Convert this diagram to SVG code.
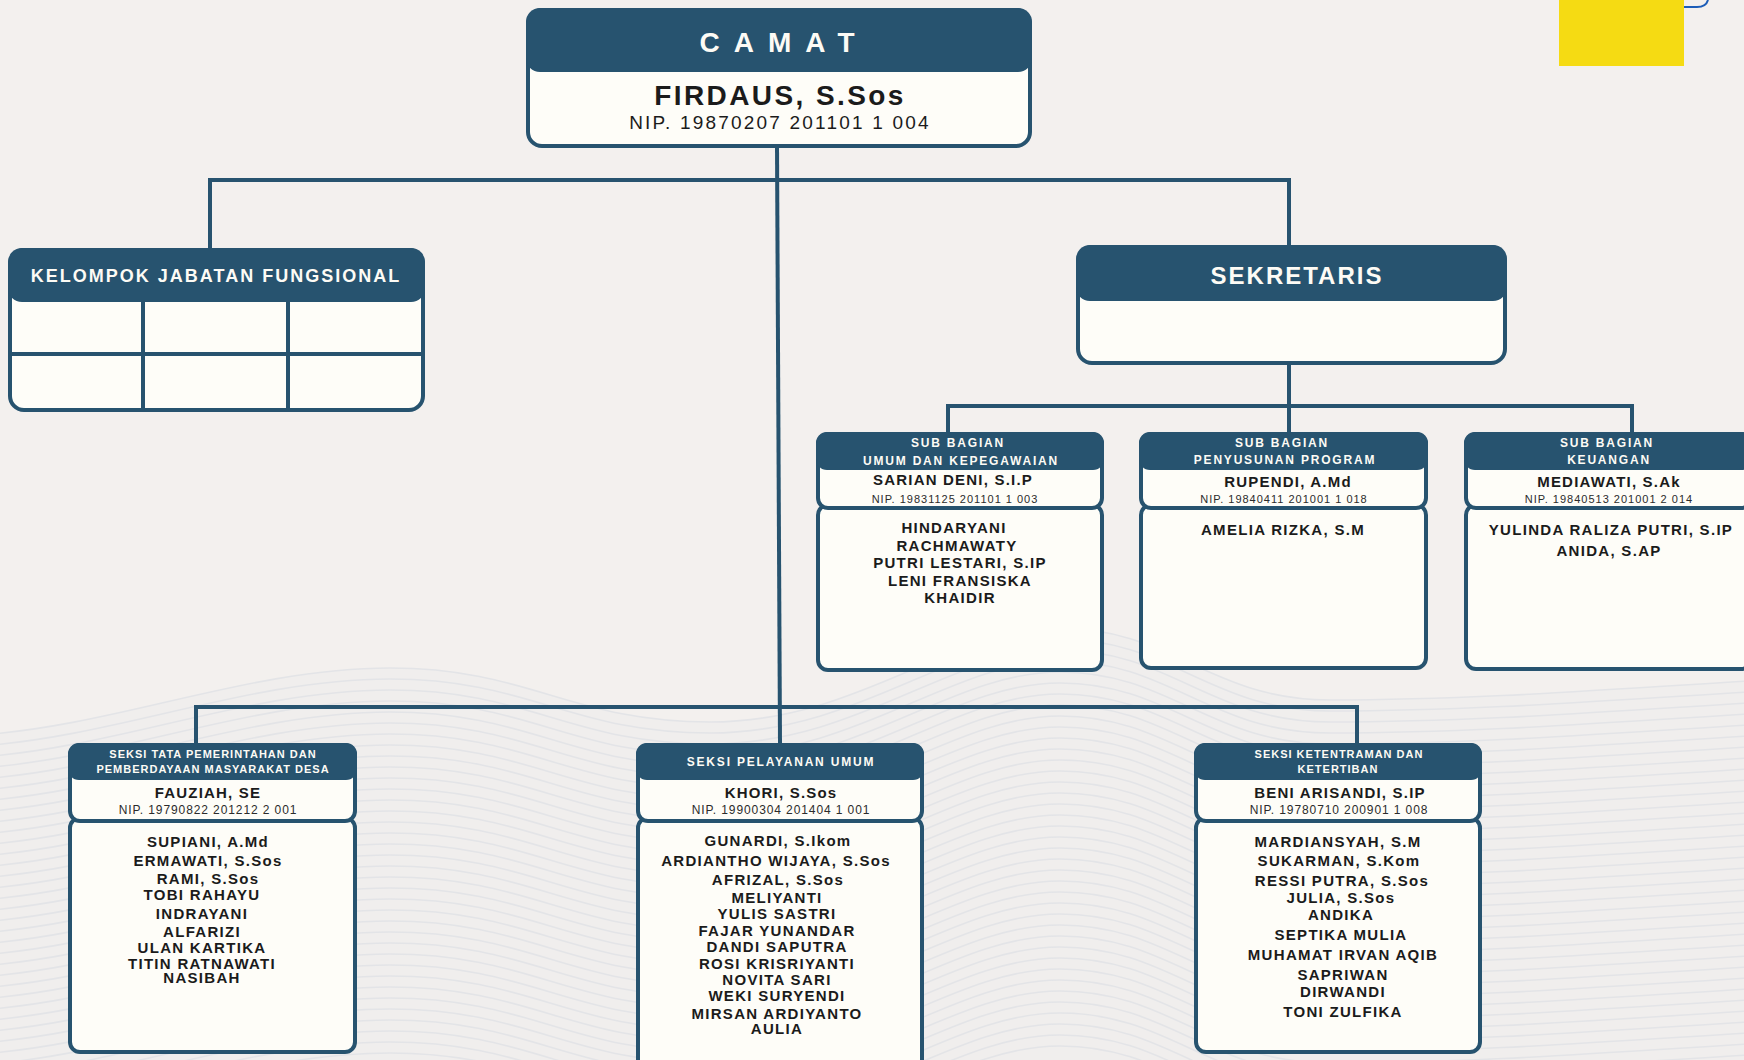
<svg xmlns="http://www.w3.org/2000/svg" xmlns:xlink="http://www.w3.org/1999/xlink" width="1744" height="1060" viewBox="0 0 1744 1060">
<style>
.bg{fill:#F3F0EE}
.hdr{fill:#27536F}
.card{fill:#FEFDF8;stroke:#27536F;stroke-width:4}
.conn{stroke:#27536F;stroke-width:4;fill:none}
.grid{stroke:#27536F;stroke-width:4}
.wave{fill:none;stroke:#E3E4E7;stroke-width:1.6}
text{font-family:"Liberation Sans",Arial,sans-serif;text-anchor:middle}
.t-camat{font-size:28px;font-weight:700;fill:#FDFBF5;letter-spacing:14px}
.t-chief{font-size:28px;font-weight:700;fill:#1b1b1b;letter-spacing:2.4px}
.t-nipbig{font-size:19px;fill:#1b1b1b;letter-spacing:2.2px}
.t-title{font-size:18px;font-weight:700;fill:#FDFBF5;letter-spacing:2px}
.t-sek{font-size:24px;font-weight:700;fill:#FDFBF5;letter-spacing:2px}
.t-h{font-size:12px;font-weight:700;fill:#FDFBF5;letter-spacing:1.8px}
.t-h2{font-size:11px;font-weight:700;fill:#FDFBF5;letter-spacing:1px}
.t-name{font-size:15px;font-weight:700;fill:#1b1b1b;letter-spacing:1.2px}
.t-nip{font-size:11px;fill:#2b2b2b;letter-spacing:1px}
.t-nip2{font-size:12px;fill:#2b2b2b;letter-spacing:0.9px}
.t-body{font-size:15px;font-weight:700;fill:#1b1b1b;letter-spacing:1.3px}
</style>
<defs>
<path id="wv" d="M-20,735 C120,725 250,668 390,668 C530,668 570,722 710,722 C860,722 950,628 1060,628 C1170,628 1210,700 1330,700 C1470,700 1600,690 1764,680"/>
</defs>
<rect class="bg" x="0" y="0" width="1744" height="1060"/>
<g id="background-waves">
<path d="M-20,735 C120,725 250,668 390,668 C530,668 570,722 710,722 C860,722 950,628 1060,628 C1170,628 1210,700 1330,700 C1470,700 1600,690 1764,680 V1060 H-20 Z" fill="#EEEDED" opacity="0.6"/>
<use href="#wv" class="wave" y="0"/>
<use href="#wv" class="wave" y="11"/>
<use href="#wv" class="wave" y="22"/>
<use href="#wv" class="wave" y="33"/>
<use href="#wv" class="wave" y="44"/>
<use href="#wv" class="wave" y="55"/>
<use href="#wv" class="wave" y="66"/>
<use href="#wv" class="wave" y="77"/>
<use href="#wv" class="wave" y="88"/>
<use href="#wv" class="wave" y="99"/>
<use href="#wv" class="wave" y="110"/>
<use href="#wv" class="wave" y="121"/>
<use href="#wv" class="wave" y="132"/>
<use href="#wv" class="wave" y="143"/>
<use href="#wv" class="wave" y="154"/>
<use href="#wv" class="wave" y="165"/>
<use href="#wv" class="wave" y="176"/>
<use href="#wv" class="wave" y="187"/>
<use href="#wv" class="wave" y="198"/>
<use href="#wv" class="wave" y="209"/>
<use href="#wv" class="wave" y="220"/>
<use href="#wv" class="wave" y="231"/>
<use href="#wv" class="wave" y="242"/>
<use href="#wv" class="wave" y="253"/>
<use href="#wv" class="wave" y="264"/>
<use href="#wv" class="wave" y="275"/>
<use href="#wv" class="wave" y="286"/>
<use href="#wv" class="wave" y="297"/>
<use href="#wv" class="wave" y="308"/>
<use href="#wv" class="wave" y="319"/>
<use href="#wv" class="wave" y="330"/>
<use href="#wv" class="wave" y="341"/>
<use href="#wv" class="wave" y="352"/>
<use href="#wv" class="wave" y="363"/>
<use href="#wv" class="wave" y="374"/>
<use href="#wv" class="wave" y="385"/>
<use href="#wv" class="wave" y="396"/>
<use href="#wv" class="wave" y="407"/>
<use href="#wv" class="wave" y="418"/>
</g>
<g id="decor">
<rect x="1559" y="0" width="125" height="66" fill="#F5DB13"/>
<path d="M1684,7 L1697,7 Q1706,7 1708,0" fill="none" stroke="#1C5DB8" stroke-width="2"/>
</g>
<g id="connectors">
<path class="conn" d="M777,146 L780,744"/>
<path class="conn" d="M210,249 V180 H1289 V246"/>
<path class="conn" d="M1289,363 V433"/>
<path class="conn" d="M948,433 V406 H1632 V433"/>
<path class="conn" d="M196,744 V707 H1357 V744"/>
</g>
<g id="camat">
<rect class="card" x="528" y="10" width="502" height="136" rx="14"/>
<rect class="hdr" x="526" y="8" width="506" height="64" rx="14"/>
<text class="t-camat" x="784" y="52">CAMAT</text>
<text class="t-chief" x="780" y="105">FIRDAUS, S.Sos</text>
<text class="t-nipbig" x="780" y="129">NIP. 19870207 201101 1 004</text>
</g>
<g id="kelompok-jabatan-fungsional">
<rect class="card" x="10" y="250" width="413" height="160" rx="14"/>
<line class="grid" x1="143" y1="300" x2="143" y2="410"/>
<line class="grid" x1="288" y1="300" x2="288" y2="410"/>
<line class="grid" x1="10" y1="354" x2="423" y2="354"/>
<rect class="hdr" x="8" y="248" width="417" height="54" rx="14"/>
<text class="t-title" x="216" y="282">KELOMPOK JABATAN FUNGSIONAL</text>
</g>
<g id="sekretaris">
<rect class="card" x="1078" y="247" width="427" height="116" rx="14"/>
<rect class="hdr" x="1076" y="245" width="431" height="56" rx="14"/>
<text class="t-sek" x="1297" y="284">SEKRETARIS</text>
</g>
<g id="sub-umum">
<rect class="card" x="818" y="505" width="284" height="165" rx="10"/>
<rect class="card" x="818" y="434" width="284" height="74" rx="10"/>
<rect class="hdr" x="816" y="432" width="288" height="38" rx="11"/>
<text class="t-h" x="958" y="447">SUB BAGIAN</text>
<text class="t-h" x="961" y="465">UMUM DAN KEPEGAWAIAN</text>
<text class="t-name" x="953" y="485">SARIAN DENI, S.I.P</text>
<text class="t-nip" x="955" y="503">NIP. 19831125 201101 1 003</text>
<text class="t-body" x="954" y="533">HINDARYANI</text>
<text class="t-body" x="957" y="551">RACHMAWATY</text>
<text class="t-body" x="960" y="568">PUTRI LESTARI, S.IP</text>
<text class="t-body" x="960" y="586">LENI FRANSISKA</text>
<text class="t-body" x="960" y="603">KHAIDIR</text>
</g>
<g id="sub-program">
<rect class="card" x="1141" y="505" width="285" height="163" rx="10"/>
<rect class="card" x="1141" y="434" width="285" height="74" rx="10"/>
<rect class="hdr" x="1139" y="432" width="289" height="38" rx="11"/>
<text class="t-h" x="1282" y="447">SUB BAGIAN</text>
<text class="t-h" x="1285" y="464">PENYUSUNAN PROGRAM</text>
<text class="t-name" x="1288" y="487">RUPENDI, A.Md</text>
<text class="t-nip" x="1284" y="503">NIP. 19840411 201001 1 018</text>
<text class="t-body" x="1283" y="535">AMELIA RIZKA, S.M</text>
</g>
<g id="sub-keuangan">
<rect class="card" x="1466" y="505" width="285" height="164" rx="10"/>
<rect class="card" x="1466" y="434" width="285" height="74" rx="10"/>
<rect class="hdr" x="1464" y="432" width="289" height="38" rx="11"/>
<text class="t-h" x="1607" y="447">SUB BAGIAN</text>
<text class="t-h" x="1609" y="464">KEUANGAN</text>
<text class="t-name" x="1609" y="487">MEDIAWATI, S.Ak</text>
<text class="t-nip" x="1609" y="503">NIP. 19840513 201001 2 014</text>
<text class="t-body" x="1611" y="535">YULINDA RALIZA PUTRI, S.IP</text>
<text class="t-body" x="1609" y="556">ANIDA, S.AP</text>
</g>
<g id="seksi-tata-pemerintahan">
<rect class="card" x="70" y="818" width="285" height="234" rx="10"/>
<rect class="card" x="70" y="745" width="285" height="76" rx="10"/>
<rect class="hdr" x="68" y="743" width="289" height="37" rx="11"/>
<text class="t-h2" x="213" y="758">SEKSI TATA PEMERINTAHAN DAN</text>
<text class="t-h2" x="213" y="773">PEMBERDAYAAN MASYARAKAT DESA</text>
<text class="t-name" x="208" y="798">FAUZIAH, SE</text>
<text class="t-nip2" x="208" y="814">NIP. 19790822 201212 2 001</text>
<text class="t-body" x="208" y="847">SUPIANI, A.Md</text>
<text class="t-body" x="208" y="866">ERMAWATI, S.Sos</text>
<text class="t-body" x="208" y="884">RAMI, S.Sos</text>
<text class="t-body" x="202" y="900">TOBI RAHAYU</text>
<text class="t-body" x="202" y="919">INDRAYANI</text>
<text class="t-body" x="202" y="937">ALFARIZI</text>
<text class="t-body" x="202" y="953">ULAN KARTIKA</text>
<text class="t-body" x="202" y="969">TITIN RATNAWATI</text>
<text class="t-body" x="202" y="983">NASIBAH</text>
</g>
<g id="seksi-pelayanan-umum">
<rect class="card" x="638" y="818" width="284" height="260" rx="10"/>
<rect class="card" x="638" y="745" width="284" height="76" rx="10"/>
<rect class="hdr" x="636" y="743" width="288" height="37" rx="11"/>
<text class="t-h" x="781" y="766">SEKSI PELAYANAN UMUM</text>
<text class="t-name" x="781" y="798">KHORI, S.Sos</text>
<text class="t-nip2" x="781" y="814">NIP. 19900304 201404 1 001</text>
<text class="t-body" x="778" y="846">GUNARDI, S.Ikom</text>
<text class="t-body" x="776" y="866">ARDIANTHO WIJAYA, S.Sos</text>
<text class="t-body" x="778" y="885">AFRIZAL, S.Sos</text>
<text class="t-body" x="777" y="903">MELIYANTI</text>
<text class="t-body" x="777" y="919">YULIS SASTRI</text>
<text class="t-body" x="777" y="936">FAJAR YUNANDAR</text>
<text class="t-body" x="777" y="952">DANDI SAPUTRA</text>
<text class="t-body" x="777" y="969">ROSI KRISRIYANTI</text>
<text class="t-body" x="777" y="985">NOVITA SARI</text>
<text class="t-body" x="777" y="1001">WEKI SURYENDI</text>
<text class="t-body" x="777" y="1019">MIRSAN ARDIYANTO</text>
<text class="t-body" x="777" y="1034">AULIA</text>
</g>
<g id="seksi-ketentraman">
<rect class="card" x="1196" y="818" width="284" height="234" rx="10"/>
<rect class="card" x="1196" y="745" width="284" height="76" rx="10"/>
<rect class="hdr" x="1194" y="743" width="288" height="37" rx="11"/>
<text class="t-h2" x="1339" y="758">SEKSI KETENTRAMAN DAN</text>
<text class="t-h2" x="1338" y="773">KETERTIBAN</text>
<text class="t-name" x="1340" y="798">BENI ARISANDI, S.IP</text>
<text class="t-nip2" x="1339" y="814">NIP. 19780710 200901 1 008</text>
<text class="t-body" x="1338" y="847">MARDIANSYAH, S.M</text>
<text class="t-body" x="1339" y="866">SUKARMAN, S.Kom</text>
<text class="t-body" x="1342" y="886">RESSI PUTRA, S.Sos</text>
<text class="t-body" x="1341" y="903">JULIA, S.Sos</text>
<text class="t-body" x="1341" y="920">ANDIKA</text>
<text class="t-body" x="1341" y="940">SEPTIKA MULIA</text>
<text class="t-body" x="1343" y="960">MUHAMAT IRVAN AQIB</text>
<text class="t-body" x="1343" y="980">SAPRIWAN</text>
<text class="t-body" x="1343" y="997">DIRWANDI</text>
<text class="t-body" x="1343" y="1017">TONI ZULFIKA</text>
</g>
</svg>
